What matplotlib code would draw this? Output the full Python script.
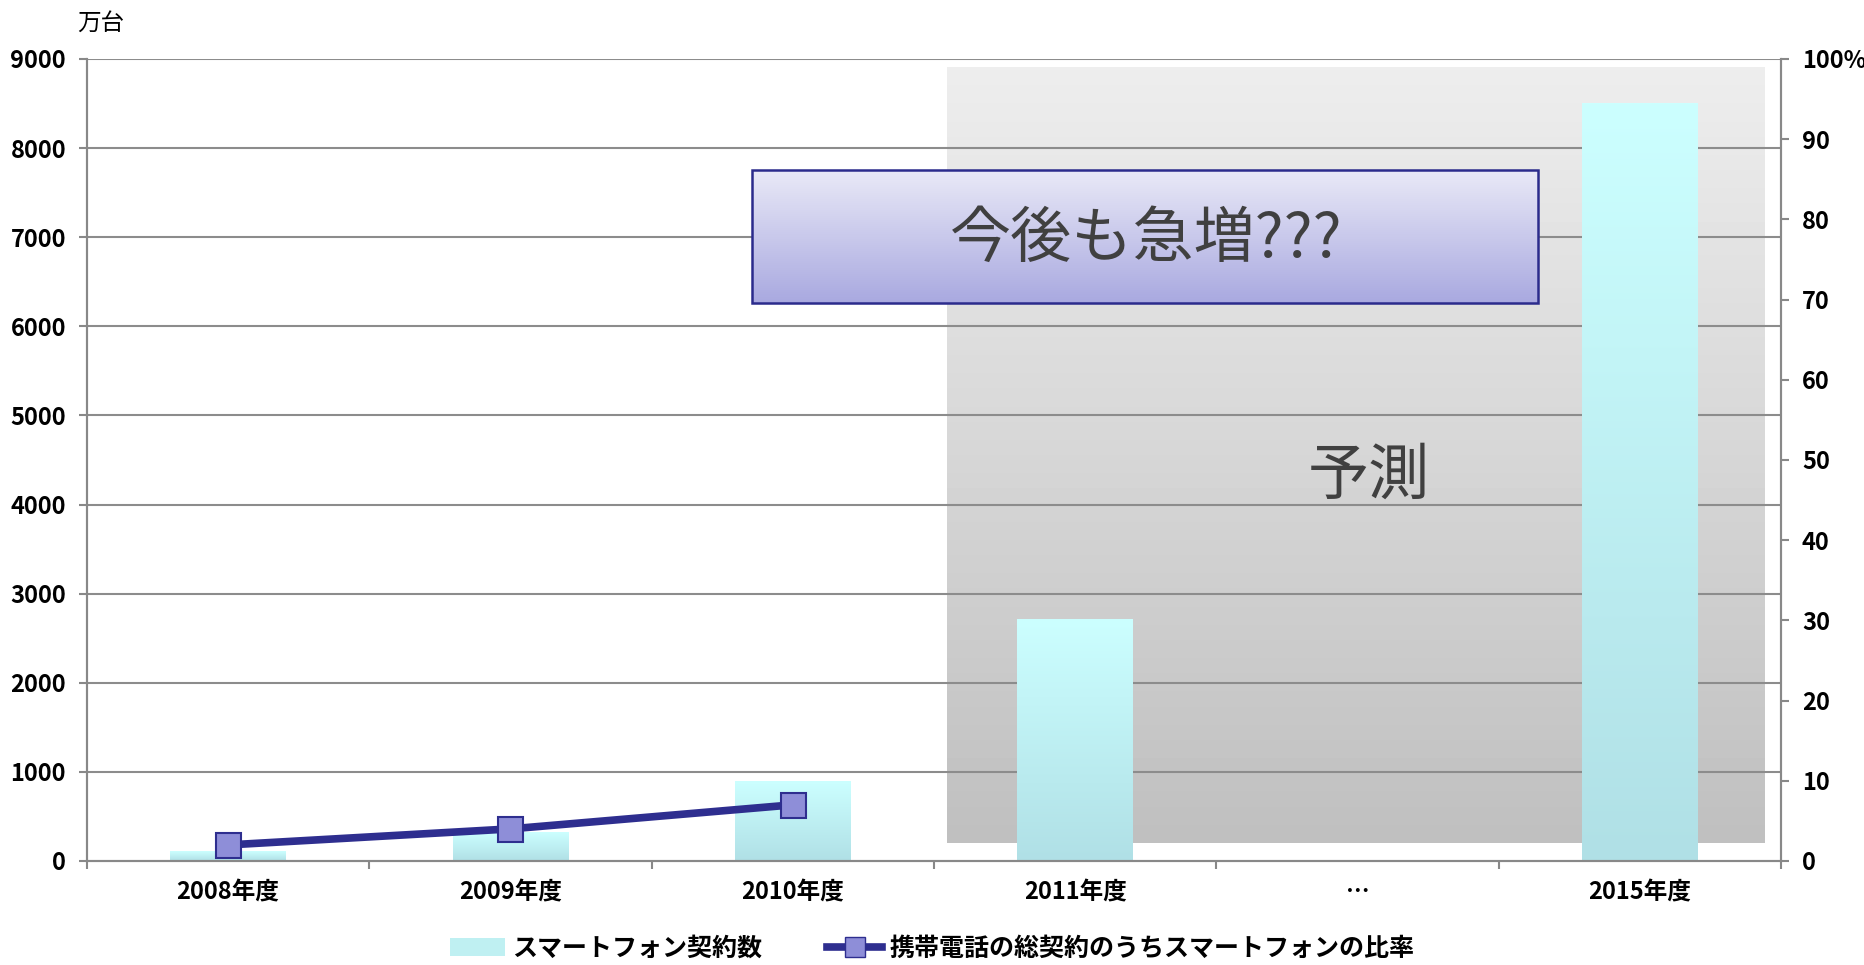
import numpy as np
import matplotlib
matplotlib.use("Agg")
import matplotlib.pyplot as plt
from matplotlib.patches import Rectangle, Patch
from matplotlib.lines import Line2D

plt.rcParams['font.family'] = ['Noto Sans CJK JP', 'DejaVu Sans']
narrow = ['Liberation Sans Narrow', 'Noto Sans CJK JP', 'DejaVu Sans']

# data
categories = ["2008年度", "2009年度", "2010年度", "2011年度", "…", "2015年度"]
contracts = [110, 320, 890, 2710, np.nan, 8500]       # 万台
share_pct = [2.0, 4.0, 7.0]                            # % of all mobile contracts
left_ticks = [0, 1000, 2000, 3000, 4000, 5000, 6000, 7000, 8000, 9000]
right_ticks = [0, 10, 20, 30, 40, 50, 60, 70, 80, 90, 100]
right_labels = ["0", "10", "20", "30", "40", "50", "60", "70", "80", "90", "100%"]

bar_label = "スマートフォン契約数"
line_label = "携帯電話の総契約のうちスマートフォンの比率"
callout = "今後も急増???"
forecast = "予測"

fig = plt.figure(figsize=(18.65, 9.65), dpi=100)
ax = fig.add_axes([0.0466, 0.1078, 0.9084, 0.8311])
ax2 = ax.twinx()

x = np.arange(len(categories))

# forecast area (grey gradient)
grey = np.linspace(0.75, 0.93, 256).reshape(-1, 1)
ax.imshow(grey, cmap="gray", vmin=0, vmax=1, extent=(2.546, 5.44, 200, 8900),
          origin="lower", aspect="auto", zorder=0.5)

# gridlines
for t in left_ticks[1:]:
    ax.axhline(t, color="#8c8c8c", lw=1.5, zorder=1)

# bars with a cyan gradient
bars = ax.bar(x, contracts, width=0.41, color="none", zorder=2)
grad = np.linspace(0, 1, 256).reshape(-1, 1)
cyan = matplotlib.colors.LinearSegmentedColormap.from_list("cy", ["#b0e0e6", "#ccffff"])
for b in bars:
    h = b.get_height()
    if np.isnan(h) or h <= 0:
        continue
    ax.imshow(grad, cmap=cyan, extent=(b.get_x(), b.get_x() + b.get_width(), 0, h),
              origin="lower", aspect="auto", zorder=2)

# callout box with lavender gradient
lav = matplotlib.colors.LinearSegmentedColormap.from_list("lv", ["#a9a9e0", "#e9e9f7"])
ax.imshow(grad, cmap=lav, extent=(1.855, 4.638, 6262, 7754), origin="lower",
          aspect="auto", zorder=3)
ax.add_patch(Rectangle((1.855, 6262), 4.638 - 1.855, 7754 - 6262, fill=False,
                       edgecolor="#2b2b8c", lw=1.8, zorder=3.1))
ax.text(3.25, 6969, callout, fontsize=44, color="#404040", ha="center", va="center", zorder=4)
ax.text(4.04, 4320, forecast, fontsize=44, color="#404040", ha="center", va="center", zorder=4)

ax.set_xlim(-0.5, len(categories) - 0.5)
ax.set_ylim(0, 9000)
ax2.set_ylim(0, 100)

# share line
ax2.plot(x[:len(share_pct)], share_pct, color="#2e2e8f", lw=5.5, marker="s",
         markersize=18, markerfacecolor="#8e8ed8", markeredgecolor="#2e2e8f",
         markeredgewidth=1.5, zorder=5)

# axes styling
for a in (ax, ax2):
    a.spines["top"].set_visible(False)
    for s in ("left", "right", "bottom"):
        a.spines[s].set_color("#888888")
        a.spines[s].set_linewidth(1.5)

ax.set_yticks(left_ticks)
ax.set_yticklabels([str(t) for t in left_ticks], fontsize=17, fontweight="bold", family=narrow)
ax.tick_params(axis="y", length=6, width=1.5, color="#888888", pad=9)
ax2.set_yticks(right_ticks)
ax2.set_yticklabels(right_labels, fontsize=17, fontweight="bold", family=narrow)
ax2.tick_params(axis="y", length=6, width=1.5, color="#888888", pad=9)

ax.set_xticks(x)
ax.set_xticklabels(categories, fontsize=17, fontweight="bold", family=narrow)
ax.set_xticks(np.arange(len(categories) + 1) - 0.5, minor=True)
ax.tick_params(axis="x", which="major", length=0, pad=14)
ax.tick_params(axis="x", which="minor", length=6, width=1.5, color="#888888")

fig.text(0.054, 0.976, "万台", fontsize=17, ha="center", va="center")

handles = [Patch(facecolor="#bff0f2", edgecolor="none"),
           Line2D([0], [0], color="#2e2e8f", lw=5.5, marker="s", markersize=14,
                  markerfacecolor="#8e8ed8", markeredgecolor="#2e2e8f")]
fig.legend(handles, [bar_label, line_label], loc="center", bbox_to_anchor=(0.5, 0.017),
           ncol=2, frameon=False, prop={"family": narrow, "size": 18, "weight": "bold"},
           handlelength=2.2, handletextpad=0.3, columnspacing=2.6)

fig.savefig("out.png", dpi=100)
